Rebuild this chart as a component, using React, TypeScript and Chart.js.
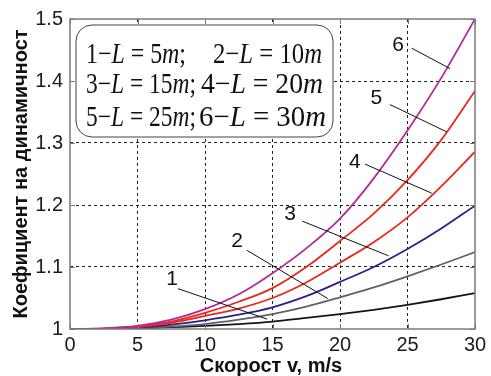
import React, { useEffect, useRef } from 'react';
import { Chart, registerables } from 'chart.js';
Chart.register(...registerables);

const speeds = [0, 2.5, 5, 7.5, 10, 12.5, 15, 17.5, 20, 22.5, 25, 27.5, 30];
const curveL5 = [1, 1.0, 1.001, 1.003, 1.005, 1.008, 1.012, 1.018, 1.024, 1.031, 1.039, 1.048, 1.058];
const curveL10 = [1, 1.0, 1.002, 1.004, 1.008, 1.015, 1.024, 1.036, 1.051, 1.067, 1.085, 1.104, 1.124];
const curveL15 = [1, 1.0, 1.002, 1.007, 1.014, 1.023, 1.035, 1.053, 1.076, 1.1, 1.129, 1.162, 1.199];
const curveL20 = [1, 1.0, 1.003, 1.01, 1.021, 1.033, 1.05, 1.075, 1.107, 1.14, 1.18, 1.23, 1.286];
const curveL25 = [1, 1.001, 1.004, 1.012, 1.026, 1.044, 1.066, 1.1, 1.142, 1.186, 1.24, 1.305, 1.384];
const curveL30 = [1, 1.001, 1.005, 1.015, 1.032, 1.056, 1.09, 1.13, 1.178, 1.243, 1.32, 1.405, 1.5];

const curveNames = ['1', '2', '3', '4', '5', '6'];
const curveColors = ['#151515', '#59636a', '#2b1f8c', '#e8281e', '#e8281e', '#b3299c'];

const xTickValues = [0, 5, 10, 15, 20, 25, 30];
const yTickValues = [1, 1.1, 1.2, 1.3, 1.4, 1.5];

const xTitle = 'Скорост v, m/s';
const yTitle = 'Коефициент на динамичност';

// legend rows: [number, L value]
const legendLeft = [['1', '5'], ['3', '15'], ['5', '25']];
const legendRight = [['2', '10'], ['4', '20'], ['6', '30']];

// label annotations in data coordinates: text position, leader start, leader end
const labelText = [[7.56, 1.08], [12.37, 1.141], [16.3, 1.185], [21.1, 1.269], [22.7, 1.372], [24.3, 1.458]];
const leaderFrom = [[8.0, 1.065], [13.1, 1.127], [17.2, 1.174], [21.85, 1.266], [23.7, 1.362], [25.3, 1.453]];
const leaderTo = [[14.6, 1.016], [19.1, 1.049], [23.6, 1.118], [26.8, 1.219], [27.9, 1.318], [28.15, 1.42]];

const series = [curveL5, curveL10, curveL15, curveL20, curveL25, curveL30];

function drawMath(ctx: CanvasRenderingContext2D, segs: { t: string; i?: boolean }[], x: number, base: number, target: number, size: number) {
  let w = 0;
  const widths = segs.map((s) => {
    ctx.font = `${s.i ? 'italic ' : ''}${size}px "Liberation Serif", "Times New Roman", serif`;
    const m = ctx.measureText(s.t).width;
    w += m;
    return m;
  });
  const sx = target / w;
  ctx.save();
  ctx.translate(x, base);
  ctx.scale(sx, 1);
  let cx = 0;
  ctx.textBaseline = 'alphabetic';
  ctx.textAlign = 'left';
  ctx.fillStyle = '#111';
  segs.forEach((s, k) => {
    ctx.font = `${s.i ? 'italic ' : ''}${size}px "Liberation Serif", "Times New Roman", serif`;
    ctx.fillText(s.t, cx, 0);
    cx += widths[k];
  });
  ctx.restore();
}

function mathSegs(n: string, v: string, semi: boolean) {
  return [
    { t: n + '\u2212' },
    { t: 'L', i: true },
    { t: ' = ' + v },
    { t: 'm', i: true },
    { t: semi ? ';' : '' },
  ];
}

const decorPlugin = {
  id: 'decor',
  afterDatasetsDraw(chart: any) {
    const ctx = chart.ctx as CanvasRenderingContext2D;
    const xs = chart.scales.x;
    const ys = chart.scales.y;
    const a = chart.chartArea;
    ctx.save();
    // leader lines and numbers
    ctx.strokeStyle = '#111';
    ctx.lineWidth = 1;
    for (let k = 0; k < curveNames.length; k++) {
      ctx.beginPath();
      ctx.moveTo(xs.getPixelForValue(leaderFrom[k][0]), ys.getPixelForValue(leaderFrom[k][1]));
      ctx.lineTo(xs.getPixelForValue(leaderTo[k][0]), ys.getPixelForValue(leaderTo[k][1]));
      ctx.stroke();
      ctx.font = '21px "Liberation Sans", Arial, sans-serif';
      ctx.fillStyle = '#111';
      ctx.textAlign = 'center';
      ctx.textBaseline = 'middle';
      ctx.fillText(curveNames[k], xs.getPixelForValue(labelText[k][0]), ys.getPixelForValue(labelText[k][1]));
    }
    // inner ticks
    ctx.strokeStyle = '#777';
    ctx.lineWidth = 1;
    xTickValues.forEach((v) => {
      const px = Math.round(xs.getPixelForValue(v)) + 0.5;
      ctx.beginPath();
      ctx.moveTo(px, a.top); ctx.lineTo(px, a.top + 5);
      ctx.moveTo(px, a.bottom); ctx.lineTo(px, a.bottom - 5);
      ctx.stroke();
    });
    yTickValues.forEach((v) => {
      const py = Math.round(ys.getPixelForValue(v)) + 0.5;
      ctx.beginPath();
      ctx.moveTo(a.left, py); ctx.lineTo(a.left + 5, py);
      ctx.moveTo(a.right, py); ctx.lineTo(a.right - 5, py);
      ctx.stroke();
    });
    // border
    ctx.strokeStyle = '#7a7a7a';
    ctx.lineWidth = 1.5;
    ctx.strokeRect(a.left, a.top, a.right - a.left, a.bottom - a.top);
    // legend box
    const bx = 76, by = 25, bw = 257, bh = 112, r = 16;
    ctx.beginPath();
    ctx.moveTo(bx + r, by);
    ctx.lineTo(bx + bw - r, by);
    ctx.arcTo(bx + bw, by, bx + bw, by + r, r);
    ctx.lineTo(bx + bw, by + bh - r);
    ctx.arcTo(bx + bw, by + bh, bx + bw - r, by + bh, r);
    ctx.lineTo(bx + r, by + bh);
    ctx.arcTo(bx, by + bh, bx, by + bh - r, r);
    ctx.lineTo(bx, by + r);
    ctx.arcTo(bx, by, bx + r, by, r);
    ctx.closePath();
    ctx.fillStyle = '#fff';
    ctx.fill();
    ctx.strokeStyle = '#444';
    ctx.lineWidth = 1;
    ctx.stroke();
    const baselines = [63, 93, 126];
    const leftW = [100, 110, 110];
    const rightX = [213, 201, 199];
    const rightW = [109, 122, 127];
    for (let k = 0; k < 3; k++) {
      drawMath(ctx, mathSegs(legendLeft[k][0], legendLeft[k][1], true), 86, baselines[k], leftW[k], 29);
      drawMath(ctx, mathSegs(legendRight[k][0], legendRight[k][1], false), rightX[k], baselines[k], rightW[k], 29);
    }
    // axis titles
    ctx.fillStyle = '#111';
    ctx.font = 'bold 20px "Liberation Sans", Arial, sans-serif';
    ctx.textAlign = 'center';
    ctx.textBaseline = 'middle';
    ctx.fillText(xTitle, 271, 366);
    ctx.save();
    ctx.translate(21, 174);
    ctx.rotate(-Math.PI / 2);
    ctx.fillText(yTitle, 0, 0);
    ctx.restore();
    ctx.restore();
  },
};

export default function App() {
  const ref = useRef<HTMLCanvasElement>(null);
  useEffect(() => {
    if (!ref.current) return;
    const datasets = series.map((d, k) => ({
      label: curveNames[k],
      data: speeds.map((s, j) => ({ x: s, y: d[j] })),
      borderColor: curveColors[k],
      borderWidth: 1.8,
      pointRadius: 0,
      fill: false,
      cubicInterpolationMode: 'monotone' as const,
      order: curveNames.length - k,
    }));
    const chart = new Chart(ref.current, {
      type: 'line',
      data: { datasets },
      options: {
        animation: false,
        responsive: false,
        maintainAspectRatio: false,
        layout: { padding: { top: 19, right: 16, left: 0, bottom: 0 } },
        plugins: { legend: { display: false }, tooltip: { enabled: false } },
        scales: {
          x: {
            type: 'linear',
            min: 0,
            max: 30,
            afterFit: (s: any) => { s.height = 47; },
            afterBuildTicks: (s: any) => { s.ticks = xTickValues.map((v) => ({ value: v })); },
            ticks: {
              color: '#1a1a1a',
              font: { family: '"Liberation Sans", Arial, sans-serif', size: 20 },
              padding: 4,
              maxRotation: 0,
            },
            grid: {
              color: (c: any) => (c.tick && (c.tick.value === 0 || c.tick.value === 30) ? 'rgba(0,0,0,0)' : '#222'),
              lineWidth: 1,
              drawTicks: false,
            },
            border: { display: false, dash: [3, 3] },
          },
          y: {
            type: 'linear',
            min: 1,
            max: 1.5,
            afterFit: (s: any) => { s.width = 70; },
            afterBuildTicks: (s: any) => { s.ticks = yTickValues.map((v) => ({ value: v })); },
            ticks: {
              color: '#1a1a1a',
              font: { family: '"Liberation Sans", Arial, sans-serif', size: 20 },
              padding: 7,
              callback: (v: any) => (Number(v) === 1 ? '1' : Number(v).toFixed(1)),
            },
            grid: {
              color: (c: any) => (c.tick && (Math.abs(c.tick.value - 1) < 1e-6 || Math.abs(c.tick.value - 1.5) < 1e-6) ? 'rgba(0,0,0,0)' : '#222'),
              lineWidth: 1,
              drawTicks: false,
            },
            border: { display: false, dash: [3, 3] },
          },
        },
      },
      plugins: [decorPlugin],
    });
    return () => chart.destroy();
  }, []);
  return (
    <div style={{ position: 'fixed', left: 0, top: 0, width: 491, height: 376, background: '#fff' }}>
      <canvas ref={ref} width={491} height={376} style={{ width: 491, height: 376, display: 'block' }} />
    </div>
  );
}
